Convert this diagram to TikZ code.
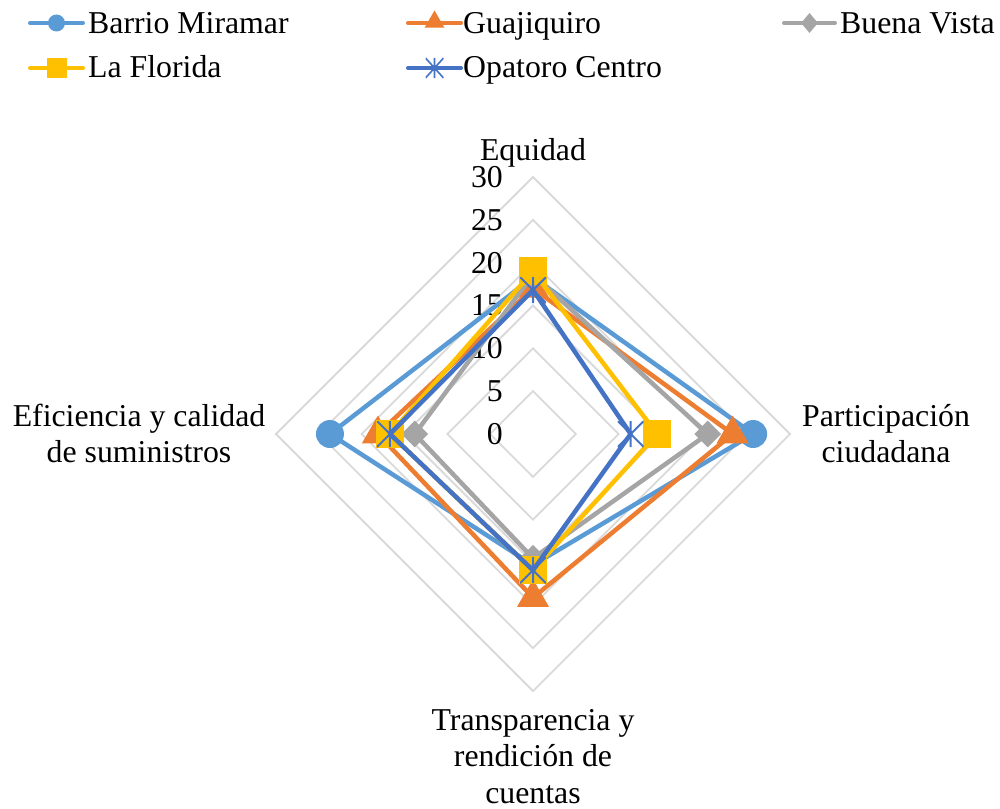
\documentclass[tikz,border=0pt]{standalone}
\usepackage{fontspec}
\setmainfont{Liberation Serif}
\usetikzlibrary{shapes.geometric}
\definecolor{cMir}{HTML}{5B9BD5}
\definecolor{cGua}{HTML}{ED7D31}
\definecolor{cBue}{HTML}{A5A5A5}
\definecolor{cFlo}{HTML}{FFC000}
\definecolor{cOpa}{HTML}{4472C4}
\definecolor{cGrid}{HTML}{D9D9D9}
\begin{document}
\begin{tikzpicture}[x=1pt,y=-1pt,
  gridline/.style={draw=cGrid,line width=1.8pt},
  txt/.style={inner sep=0pt,font=\fontsize{31.8}{36}\selectfont},
  serie/.style={line width=4.5pt,line join=round,line cap=round},
  legline/.style={line width=4pt,line cap=round},
  mcirc/.style={circle,fill=cMir,inner sep=0pt,minimum size=28pt},
  mtri/.style={regular polygon,regular polygon sides=3,fill=cGua,inner sep=0pt,minimum size=37pt},
  mdia/.style={diamond,fill=cBue,inner sep=0pt,minimum width=27pt,minimum height=27pt},
  msq/.style={rectangle,fill=cFlo,inner sep=0pt,minimum size=28pt},
  mast/.style={inner sep=0pt,minimum size=26pt,path picture={
     \draw[cOpa,line width=2pt]
       (path picture bounding box.north) -- (path picture bounding box.south)
       (path picture bounding box.north west) -- (path picture bounding box.south east)
       (path picture bounding box.north east) -- (path picture bounding box.south west);}},
  lcirc/.style={circle,fill=cMir,inner sep=0pt,minimum size=17pt},
  ltri/.style={regular polygon,regular polygon sides=3,fill=cGua,inner sep=0pt,minimum size=23pt},
  ldia/.style={diamond,fill=cBue,inner sep=0pt,minimum width=17pt,minimum height=20pt},
  lsq/.style={rectangle,fill=cFlo,inner sep=0pt,minimum size=20pt},
  last/.style={inner sep=0pt,minimum width=18pt,minimum height=20pt,path picture={
     \draw[cOpa,line width=1.6pt]
       (path picture bounding box.north) -- (path picture bounding box.south)
       (path picture bounding box.north west) -- (path picture bounding box.south east)
       (path picture bounding box.north east) -- (path picture bounding box.south west);}}
]
\useasboundingbox (0,0) rectangle (1000,808);
\def\cx{533}\def\cy{434}\def\u{8.567}

% grid
\foreach \v in {5,10,...,30}{
  \draw[gridline] ({\cx},{\cy-\v*\u}) -- ({\cx+\v*\u},{\cy}) -- ({\cx},{\cy+\v*\u}) -- ({\cx-\v*\u},{\cy}) -- cycle;
}
% tick labels
\foreach \v in {0,5,...,30}{
  \node[txt,anchor=east] (t\v) at (503,{\cy-\v*\u}) {\v};
}

% axis labels
\node[txt,anchor=base] (lEq) at (533,160) {Equidad};
\node[txt,anchor=base] (lPa1) at (886,426.5) {Participación};
\node[txt,anchor=base] (lPa2) at (886,462.5) {ciudadana};
\node[txt,anchor=base] (lTr1) at (533,730) {Transparencia y};
\node[txt,anchor=base] (lTr2) at (533,766.5) {rendición de};
\node[txt,anchor=base] (lTr3) at (533,803) {cuentas};
\node[txt,anchor=base] (lEf1) at (139,426.5) {Eficiencia y calidad};
\node[txt,anchor=base] (lEf2) at (139,462.5) {de suministros};

% data points: Equidad (up), Participacion (right), Transparencia (down), Eficiencia (left)
\newcommand\setpts[5]{%
  \coordinate (#1E) at ({\cx},{\cy-#2*\u});
  \coordinate (#1P) at ({\cx+#3*\u},{\cy});
  \coordinate (#1T) at ({\cx},{\cy+#4*\u});
  \coordinate (#1F) at ({\cx-#5*\u},{\cy});}
\setpts{mir}{18.3}{25.7}{15.3}{23.7}
\setpts{gua}{17.0}{23.3}{19.1}{18.1}
\setpts{bue}{18.6}{20.4}{14.5}{13.8}
\setpts{flo}{19.0}{14.5}{15.9}{16.7}
\setpts{opa}{16.8}{11.4}{15.9}{16.7}

% Barrio Miramar
\draw[serie,cMir] (mirE) -- (mirP) -- (mirT) -- (mirF) -- cycle;
\foreach \a in {E,P,T,F} \node[mcirc] (mm\a) at (mir\a) {};
% Guajiquiro
\draw[serie,cGua] (guaE) -- (guaP) -- (guaT) -- (guaF) -- cycle;
\foreach \a in {E,P,T,F} \node[mtri] (mg\a) at (gua\a) {};
% Buena Vista
\draw[serie,cBue] (bueE) -- (bueP) -- (bueT) -- (bueF) -- cycle;
\foreach \a in {E,P,T,F} \node[mdia] (mb\a) at (bue\a) {};
% La Florida
\draw[serie,cFlo] (floE) -- (floP) -- (floT) -- (floF) -- cycle;
\foreach \a in {E,P,T,F} \node[msq] (mf\a) at (flo\a) {};
% Opatoro Centro
\draw[serie,cOpa] (opaE) -- (opaP) -- (opaT) -- (opaF) -- cycle;
\foreach \a in {E,P,T,F} \node[mast] (mo\a) at (opa\a) {};

% legend
\coordinate (a1) at (30,23); \coordinate (b1) at (83,23);
\draw[legline,cMir] (a1) -- (b1);
\node[lcirc] (g1) at (56.5,23) {};
\node[txt,anchor=base west] (n1) at (88,33.3) {Barrio Miramar};

\coordinate (a2) at (408,23); \coordinate (b2) at (461,23);
\draw[legline,cGua] (a2) -- (b2);
\node[ltri] (g2) at (434.5,22) {};
\node[txt,anchor=base west] (n2) at (463,33.3) {Guajiquiro};

\coordinate (a3) at (784,23); \coordinate (b3) at (835,23);
\draw[legline,cBue] (a3) -- (b3);
\node[ldia] (g3) at (809.5,23) {};
\node[txt,anchor=base west] (n3) at (840,33.3) {Buena Vista};

\coordinate (a4) at (30,68); \coordinate (b4) at (83,68);
\draw[legline,cFlo] (a4) -- (b4);
\node[lsq] (g4) at (56.5,68) {};
\node[txt,anchor=base west] (n4) at (88,77.8) {La Florida};

\coordinate (a5) at (408,68); \coordinate (b5) at (461,68);
\draw[legline,cOpa] (a5) -- (b5);
\node[last] (g5) at (434.5,68) {};
\node[txt,anchor=base west] (n5) at (463,77.8) {Opatoro Centro};
\end{tikzpicture}
\end{document}
